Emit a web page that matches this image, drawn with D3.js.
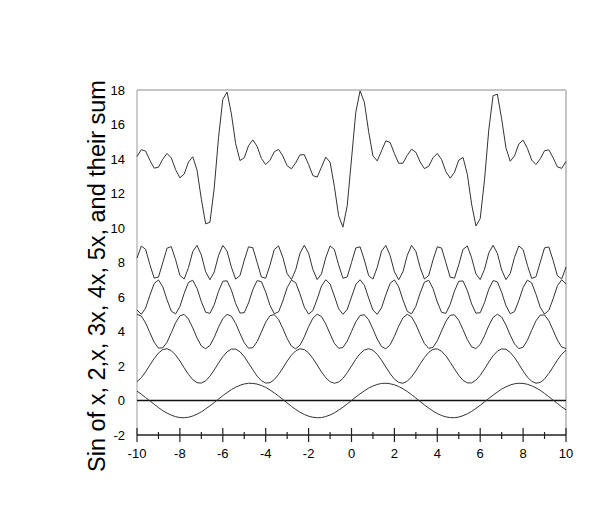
<!DOCTYPE html>
<html>
<head>
<meta charset="utf-8">
<script src="https://cdn.jsdelivr.net/npm/d3@7"></script>
<style>
  body { margin: 0; background: #fff; }
  text { font-family: Arial, "Liberation Sans", sans-serif; fill: #000; }
</style>
</head>
<body>
<div id="canvas"></div>
<script>
// x grid, -10 to 10
const xValues = [-10, -9.8, -9.6, -9.4, -9.2, -9, -8.8, -8.6, -8.4, -8.2, -8, -7.8, -7.6, -7.4, -7.2, -7, -6.8, -6.6, -6.4, -6.2,
  -6, -5.8, -5.6, -5.4, -5.2, -5, -4.8, -4.6, -4.4, -4.2, -4, -3.8, -3.6, -3.4, -3.2, -3, -2.8, -2.6, -2.4, -2.2,
  -2, -1.8, -1.6, -1.4, -1.2, -1, -0.8, -0.6, -0.4, -0.2, 0, 0.2, 0.4, 0.6, 0.8, 1, 1.2, 1.4, 1.6, 1.8,
  2, 2.2, 2.4, 2.6, 2.8, 3, 3.2, 3.4, 3.6, 3.8, 4, 4.2, 4.4, 4.6, 4.8, 5, 5.2, 5.4, 5.6, 5.8,
  6, 6.2, 6.4, 6.6, 6.8, 7, 7.2, 7.4, 7.6, 7.8, 8, 8.2, 8.4, 8.6, 8.8, 9, 9.2, 9.4, 9.6, 9.8, 10];

const sinX = [.54, .37, .17, -.02, -.22, -.41, -.59, -.73, -.85, -.94, -.99, -1.00, -.97, -.90, -.79, -.66, -.49, -.31, -.12, .08,
  .28, .46, .63, .77, .88, .96, 1.00, .99, .95, .87, .76, .61, .44, .26, .06, -.14, -.34, -.52, -.68, -.81,
  -.91, -.97, -1.00, -.99, -.93, -.84, -.72, -.56, -.39, -.20,
  0, .20, .39, .56, .72, .84, .93, .99, 1.00, .97, .91, .81, .68, .52, .34, .14, -.06, -.26, -.44, -.61,
  -.76, -.87, -.95, -.99, -1.00, -.96, -.88, -.77, -.63, -.46, -.28, -.08, .12, .31, .49, .66, .79, .90, .97, 1.00,
  .99, .94, .85, .73, .59, .41, .22, .02, -.17, -.37, -.54];

const sin2X = [-.91, -.68, -.34, .05, .43, .75, .95, 1.00, .89, .64, .29, -.11, -.49, -.79, -.97, -.99, -.86, -.59, -.23, .17,
  .54, .82, .98, .98, .83, .54, .17, -.22, -.59, -.85, -.99, -.97, -.79, -.49, -.12, .28, .63, .88, 1.00, .95,
  .76, .44, .06, -.34, -.68, -.91, -1.00, -.93, -.72, -.39,
  0, .39, .72, .93, 1.00, .91, .68, .34, -.06, -.44, -.76, -.95, -1.00, -.88, -.63, -.28, .12, .49, .79, .97,
  .99, .85, .59, .22, -.17, -.54, -.83, -.98, -.98, -.82, -.54, -.17, .23, .59, .86, .99, .97, .79, .49, .11,
  -.29, -.64, -.89, -1.00, -.95, -.75, -.43, -.05, .34, .68, .91];

const sin3X = [.99, .90, .50, -.07, -.62, -.96, -.95, -.62, -.07, .51, .91, .99, .72, .21, -.38, -.84, -1.00, -.81, -.34, .25,
  .75, .99, .89, .47, -.11, -.65, -.97, -.94, -.59, -.03, .54, .92, .98, .70, .17, -.41, -.85, -1.00, -.79, -.31,
  .28, .77, 1.00, .87, .44, -.14, -.68, -.97, -.93, -.56,
  0, .56, .93, .97, .68, .14, -.44, -.87, -1.00, -.77, -.28, .31, .79, 1.00, .85, .41, -.17, -.70, -.98, -.92,
  -.54, .03, .59, .94, .97, .65, .11, -.47, -.89, -.99, -.75, -.25, .34, .81, 1.00, .84, .38, -.21, -.72, -.99,
  -.91, -.51, .07, .62, .95, .96, .62, .07, -.50, -.90, -.99];

const sin4X = [-.75, -1.00, -.65, .10, .78, .99, .60, -.16, -.82, -.98, -.55, .21, .85, .97, .50, -.27, -.88, -.95, -.45, .33,
  .91, .94, .40, -.38, -.93, -.91, -.34, .43, .95, .89, .29, -.49, -.97, -.86, -.23, .54, .98, .83, .17, -.59,
  -.99, -.79, -.12, .63, 1.00, .76, .06, -.68, -1.00, -.72,
  0, .72, 1.00, .68, -.06, -.76, -1.00, -.63, .12, .79, .99, .59, -.17, -.83, -.98, -.54, .23, .86, .97, .49,
  -.29, -.89, -.95, -.43, .34, .91, .93, .38, -.40, -.94, -.91, -.33, .45, .95, .88, .27, -.50, -.97, -.85, -.21,
  .55, .98, .82, .16, -.60, -.99, -.78, -.10, .65, 1.00, .75];

const sin5X = [.26, .95, .77, -.12, -.90, -.85, -.02, .83, .92, .16, -.75, -.96, -.30, .64, .99, .43, -.53, -1.00, -.55, .40,
  .99, .66, -.27, -.96, -.76, .13, .91, .85, .01, -.84, -.91, -.15, .75, .96, .29, -.65, -.99, -.42, .54, 1.00,
  .54, -.41, -.99, -.66, .28, .96, .76, -.14, -.91, -.84,
  0, .84, .91, .14, -.76, -.96, -.28, .66, .99, .41, -.54, -1.00, -.54, .42, .99, .65, -.29, -.96, -.75, .15,
  .91, .84, -.01, -.85, -.91, -.13, .76, .96, .27, -.66, -.99, -.40, .55, 1.00, .53, -.43, -.99, -.64, .30, .96,
  .75, -.16, -.92, -.83, .02, .85, .90, .12, -.77, -.95, -.26];

const sumAll = [.14, .54, .46, -.07, -.53, -.48, -.01, .32, .06, -.62, -1.09, -.87, -.18, .13, -.65, -2.33, -3.76, -3.67, -1.69, 1.23,
  3.46, 3.88, 2.62, .89, -.09, .07, .77, 1.11, .73, .03, -.32, -.07, .42, .56, .17, -.39, -.57, -.22, .24, .25,
  -.32, -.96, -1.05, -.47, .11, -.18, -1.58, -3.29, -3.95, -2.71,
  0, 2.71, 3.95, 3.29, 1.58, .18, -.11, .47, 1.05, .96, .32, -.25, -.24, .22, .57, .39, -.17, -.56, -.42, .07,
  .32, -.03, -.73, -1.11, -.77, -.07, .09, -.89, -2.62, -3.88, -3.46, -1.23, 1.69, 3.67, 3.76, 2.33, .65, -.13, .18, .87,
  1.09, .62, -.06, -.32, .01, .48, .53, .07, -.46, -.54, -.14];

// each curve is shifted up so they stack
const seriesList = [sinX, sin2X, sin3X, sin4X, sin5X, sumAll];
const offsets = [0, 2, 4, 6, 8, 14];

const xTicks = [-10, -8, -6, -4, -2, 0, 2, 4, 6, 8, 10];
const xMinorTicks = [-9, -7, -5, -3, -1, 1, 3, 5, 7, 9];
const yTicks = [-2, 0, 2, 4, 6, 8, 10, 12, 14, 16, 18];
const yLabel = "Sin of x, 2,x, 3x, 4x, 5x, and their sum";

const margin = { top: 90, right: 43, bottom: 90, left: 137 },
    width = 609 - margin.left - margin.right,
    height = 525 - margin.top - margin.bottom;

const svg = d3.select("#canvas")
    .append("svg")
    .attr("width", 609)
    .attr("height", 525)
    .style("background", "#fff")
    .append("g")
    .attr("transform", `translate(${margin.left},${margin.top})`);

const x = d3.scaleLinear().domain([-10, 10]).range([0, width]);
const y = d3.scaleLinear().domain([-2, 18]).range([height, 0]);

// frame: top and right in grey, left axis grey
svg.append("line")
    .attr("x1", 0).attr("x2", width).attr("y1", 0).attr("y2", 0)
    .attr("stroke", "#8c8c8c").attr("stroke-width", 1);
svg.append("line")
    .attr("x1", width).attr("x2", width).attr("y1", 0).attr("y2", height)
    .attr("stroke", "#c4c4c4").attr("stroke-width", 2);
svg.append("line")
    .attr("x1", 0).attr("x2", 0).attr("y1", 0).attr("y2", height)
    .attr("stroke", "#9a9a9a").attr("stroke-width", 1);

// y tick labels (no tick marks)
svg.append("g")
    .selectAll("text")
    .data(yTicks)
    .join("text")
    .attr("x", -12)
    .attr("y", d => y(d))
    .attr("dy", "0.35em")
    .attr("text-anchor", "end")
    .style("font-size", "13px")
    .text(d => d);

// zero line
svg.append("line")
    .attr("x1", 0).attr("x2", width).attr("y1", y(0)).attr("y2", y(0))
    .attr("stroke", "#111").attr("stroke-width", 1.3);

// curves
const line = d3.line()
    .x((d, i) => x(xValues[i]))
    .y(d => y(d));

seriesList.forEach((s, k) => {
    svg.append("path")
        .datum(s.map(v => v + offsets[k]))
        .attr("fill", "none")
        .attr("stroke", "#333")
        .attr("stroke-width", 1)
        .attr("d", line);
});

// x axis
const xAxisG = svg.append("g").attr("transform", `translate(0,${height})`);
xAxisG.append("line")
    .attr("x1", 0).attr("x2", width)
    .attr("stroke", "#222").attr("stroke-width", 1.3);
xAxisG.selectAll(".major")
    .data(xTicks)
    .join("line")
    .attr("class", "major")
    .attr("x1", d => x(d)).attr("x2", d => x(d))
    .attr("y1", -7).attr("y2", 7)
    .attr("stroke", "#222").attr("stroke-width", 1.2);
xAxisG.selectAll(".minor")
    .data(xMinorTicks)
    .join("line")
    .attr("class", "minor")
    .attr("x1", d => x(d)).attr("x2", d => x(d))
    .attr("y1", -3).attr("y2", 4)
    .attr("stroke", "#222").attr("stroke-width", 1.2);
xAxisG.selectAll("text")
    .data(xTicks)
    .join("text")
    .attr("x", d => x(d))
    .attr("y", 23)
    .attr("text-anchor", "middle")
    .style("font-size", "13px")
    .text(d => d);

// y axis title
svg.append("text")
    .attr("transform", `translate(${105 - margin.left},${276 - margin.top}) rotate(-90)`)
    .attr("text-anchor", "middle")
    .style("font-size", "23.5px")
    .text(yLabel);
</script>
</body>
</html>
